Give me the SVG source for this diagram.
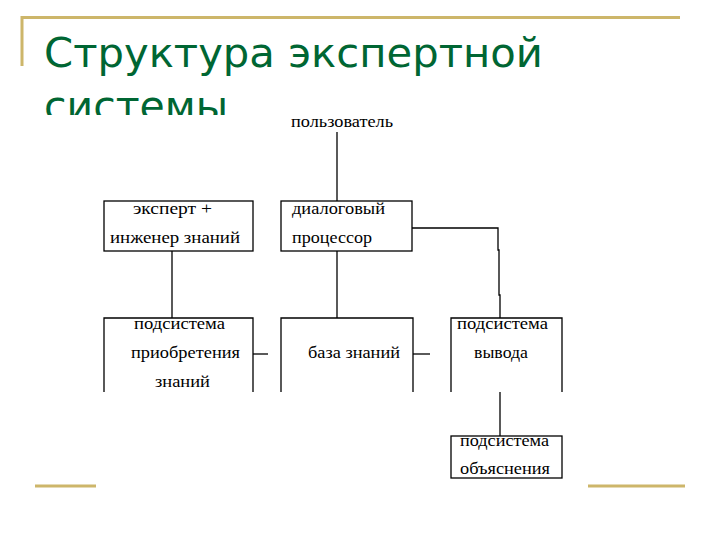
<svg xmlns="http://www.w3.org/2000/svg" width="720" height="540" viewBox="0 0 720 540">
<style>
.gold{stroke:#CDB66A;stroke-width:3;fill:none}
.title{font-family:"DejaVu Sans","Noto Sans",sans-serif;font-size:41px;fill:#006633}
.box{fill:none;stroke:#000;stroke-width:1.3}
.ln{stroke:#000;stroke-width:1.3;fill:none}
.t{font-family:"Liberation Serif","Times New Roman",serif;font-size:16px;fill:#000}
</style>
<rect width="720" height="540" fill="#fff"/>
<g id="decor">
<path class="gold" d="M22 66V17.5H680"/>
<path class="gold" d="M35 486H96M588 486H685"/>
</g>
<g id="title">
<text class="title" x="44" y="67" textLength="499" lengthAdjust="spacingAndGlyphs">Структура экспертной</text>
<text class="title" x="44" y="120">системы</text>
<rect x="30" y="115" width="580" height="369" fill="#fff"/>
</g>
<g id="connectors">
<path class="ln" d="M337 132V201"/>
<path class="ln" d="M412 228H498V250H499V295H500V318"/>
<path class="ln" d="M172 251V318"/>
<path class="ln" d="M337 251V318"/>
<path class="ln" d="M253 354H268"/>
<path class="ln" d="M413 354H430"/>
<path class="ln" d="M500 392V436"/>
</g>
<g id="user">
<text class="t" x="342" y="127" text-anchor="middle" textLength="102" lengthAdjust="spacingAndGlyphs">пользователь</text>
</g>
<g id="expert">
<rect class="box" x="104" y="201" width="149" height="50"/>
<text class="t" x="133" y="214" textLength="79" lengthAdjust="spacingAndGlyphs">эксперт +</text>
<text class="t" x="110" y="243" textLength="130" lengthAdjust="spacingAndGlyphs">инженер знаний</text>
</g>
<g id="dialog">
<rect class="box" x="281" y="201" width="131" height="50"/>
<text class="t" x="292" y="214" textLength="93" lengthAdjust="spacingAndGlyphs">диалоговый</text>
<text class="t" x="292" y="243" textLength="80" lengthAdjust="spacingAndGlyphs">процессор</text>
</g>
<g id="acquisition">
<path class="box" d="M104 392V318H253V392"/>
<text class="t" x="134" y="329" textLength="91" lengthAdjust="spacingAndGlyphs">подсистема</text>
<text class="t" x="131" y="358" textLength="109" lengthAdjust="spacingAndGlyphs">приобретения</text>
<text class="t" x="155" y="387" textLength="55" lengthAdjust="spacingAndGlyphs">знаний</text>
</g>
<g id="kb">
<path class="box" d="M281 392V318H413V392"/>
<text class="t" x="308" y="358" textLength="92" lengthAdjust="spacingAndGlyphs">база знаний</text>
</g>
<g id="inference">
<path class="box" d="M451 392V318H562V392"/>
<text class="t" x="457" y="329" textLength="91" lengthAdjust="spacingAndGlyphs">подсистема</text>
<text class="t" x="474" y="358" textLength="54" lengthAdjust="spacingAndGlyphs">вывода</text>
</g>
<g id="explanation">
<rect class="box" x="451" y="436" width="111" height="42"/>
<text class="t" x="460" y="446" textLength="89" lengthAdjust="spacingAndGlyphs">подсистема</text>
<text class="t" x="460" y="474" textLength="90" lengthAdjust="spacingAndGlyphs">объяснения</text>
</g>
</svg>
